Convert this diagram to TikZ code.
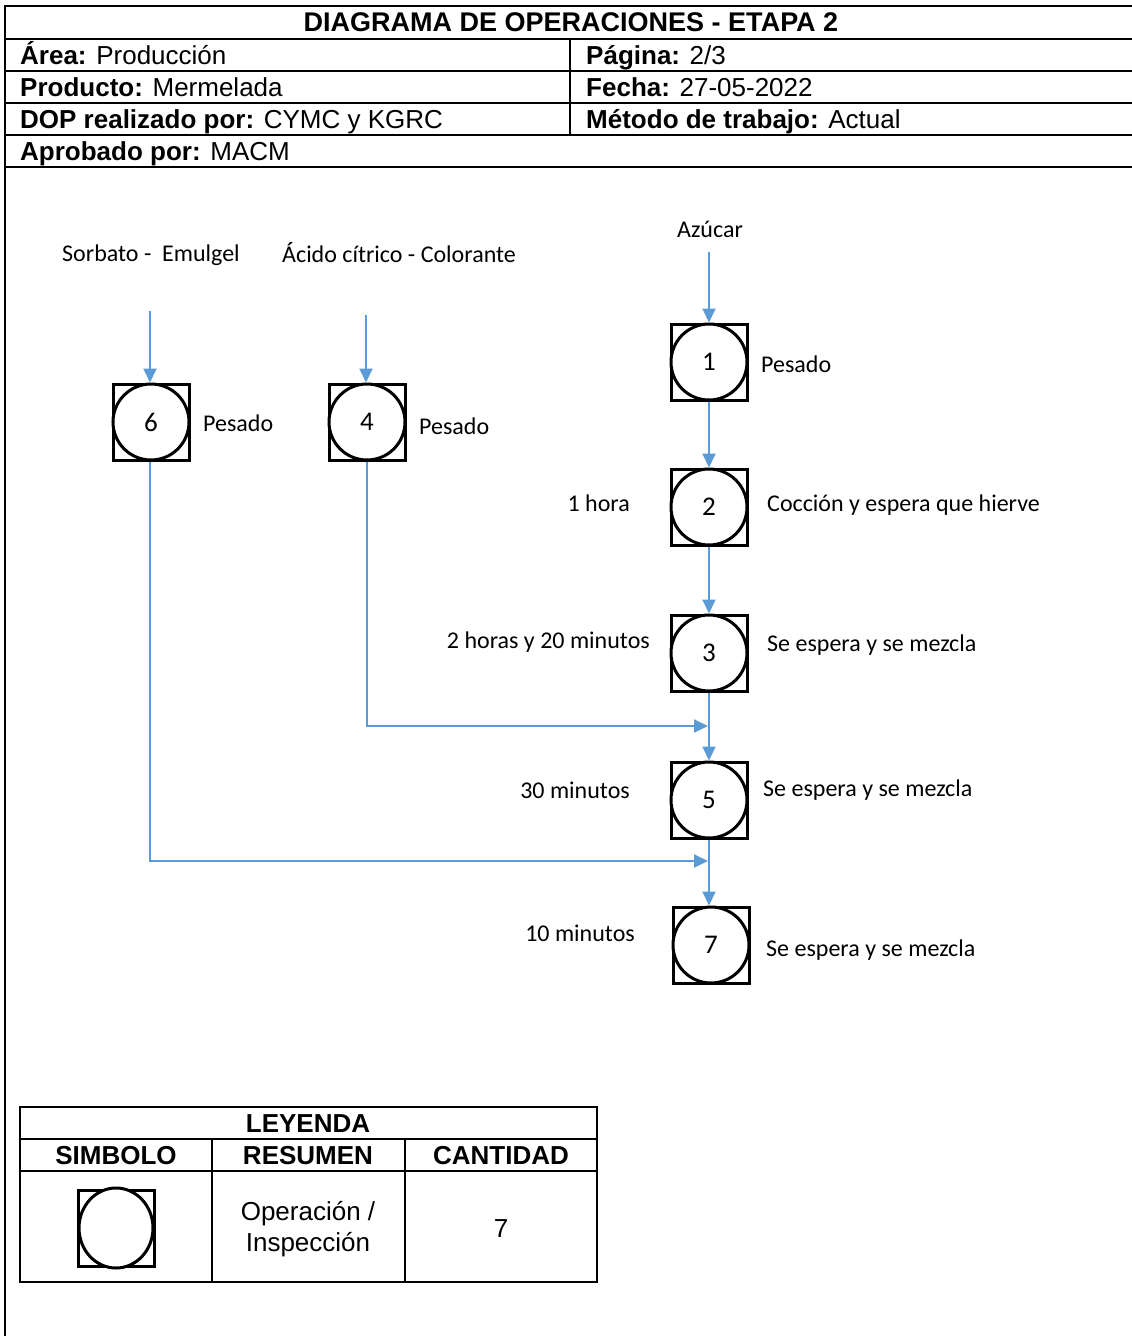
\documentclass[tikz,border=0pt]{standalone}
\usepackage{fontspec}
\setmainfont{Liberation Sans}
\newfontfamily\calibrifont{Carlito}
\usetikzlibrary{arrows.meta}
\definecolor{flowblue}{HTML}{5B9BD5}
\tikzset{
  frame/.style={line width=2pt, black},
  hdr/.style={inner sep=0pt, anchor=base west, font=\fontsize{26}{30}\selectfont},
  lbl/.style={inner sep=0pt, font=\calibrifont\fontsize{24}{28}\selectfont},
  sq/.style={draw, line width=3pt, minimum size=76pt, inner sep=0pt},
  circ/.style={draw, circle, fill=white, line width=3pt, minimum size=76pt, inner sep=0pt, font=\calibrifont\fontsize{27}{30}\selectfont},
  arr/.style={draw=flowblue, line width=2pt, -{Triangle[length=14pt,width=13pt]}, color=flowblue},
  lgd/.style={inner sep=0pt, font=\fontsize{26}{31}\selectfont, align=center},
  lgdb/.style={inner sep=0pt, anchor=base, font=\bfseries\fontsize{26}{31}\selectfont},
}
\begin{document}
\begin{tikzpicture}[x=1pt,y=-1pt]
\useasboundingbox (0,0) rectangle (1132,1336);
% header frame
\draw[frame] (1132,6) -- (5,6) -- (5,1336);
\foreach \yy in {39,71,103,135,167} \draw[frame] (5,\yy) -- (1132,\yy);
\draw[frame] (570,39) -- (570,135);
\node[hdr, anchor=base, font=\bfseries\fontsize{27}{30}\selectfont] (title) at (571,31) {DIAGRAMA DE OPERACIONES - ETAPA 2};
\node[hdr] (area) at (20,64) {\textbf{Área:} Producción};
\node[hdr] (prod) at (20,96) {\textbf{Producto:} Mermelada};
\node[hdr] (dop) at (20,128) {\textbf{DOP realizado por:} CYMC y KGRC};
\node[hdr] (apr) at (20,160) {\textbf{Aprobado por:} MACM};
\node[hdr] (pag) at (586,64) {\textbf{Página:} 2/3};
\node[hdr] (fec) at (586,96) {\textbf{Fecha:} 27-05-2022};
\node[hdr] (met) at (586,128) {\textbf{Método de trabajo:} Actual};

% inputs
\node[lbl] (in6) at (151,255) {Sorbato -\ \ Emulgel};
\node[lbl, anchor=west] (in4) at (282,253) {Ácido cítrico - Colorante};
\node[lbl] (in1) at (710,229) {Azúcar};
\coordinate (c6) at (150,311);
\coordinate (c4) at (366,315);
\coordinate (c1) at (709,252);

% symbols
\foreach \n/\xx/\yy in {1/709/362, 2/709/507, 3/709/653, 5/709/800, 7/711/945, 6/151/422, 4/367/422}{
  \node[sq] (s\n) at (\xx,\yy) {};
  \node[circ] (n\n) at (\xx,\yy) {\raisebox{-5pt}{\n}};
}

% labels
\node[lbl, anchor=west] (p1) at (761,364) {Pesado};
\node[lbl, anchor=west] (p6) at (203,423) {Pesado};
\node[lbl, anchor=west] (p4) at (419,426) {Pesado};
\node[lbl, anchor=east] (t2) at (630,503) {1 hora};
\node[lbl, anchor=west] (d2) at (767,505) {Cocción y espera que hierve};
\node[lbl, anchor=east] (t3) at (650,642) {2 horas y 20 minutos};
\node[lbl, anchor=west] (d3) at (767,645) {Se espera y se mezcla};
\node[lbl, anchor=east] (t5) at (630,790) {30 minutos};
\node[lbl, anchor=west] (d5) at (763,790) {Se espera y se mezcla};
\node[lbl, anchor=east] (t7) at (635,933) {10 minutos};
\node[lbl, anchor=west] (d7) at (766,950) {Se espera y se mezcla};

% connectors
\draw[arr] (c1) -- (s1.north);
\draw[arr] (c6) -- (s6.north -| c6);
\draw[arr] (c4) -- (s4.north -| c4);
\draw[arr] (s1.south) -- (s2.north);
\draw[arr] (s2.south) -- (s3.north);
\draw[arr] (s3.south) -- (s5.north);
\draw[arr] (s5.south) -- (s7.north -| s5.south);
\coordinate (j4) at (708,726);
\coordinate (j6) at (708,861);
\draw[arr] (s4.south) |- (j4);
\draw[arr] (s6.south -| c6) |- (j6);

% legend
\draw[frame] (20,1107) rectangle (597,1282);
\draw[frame] (20,1139) -- (597,1139);
\draw[frame] (20,1171) -- (597,1171);
\draw[frame] (212,1139) -- (212,1282);
\draw[frame] (405,1139) -- (405,1282);
\node[lgdb] (ley) at (308,1132) {LEYENDA};
\node[lgdb] (hs) at (116,1164) {SIMBOLO};
\node[lgdb] (hr) at (308,1164) {RESUMEN};
\node[lgdb] (hc) at (501,1164) {CANTIDAD};
\node[draw, line width=3pt, minimum size=76pt, inner sep=0pt] (ls) at (116,1228) {};
\draw[line width=3pt, fill=white] (116,1228) ellipse (37pt and 40pt);
\node[lgd] (lr) at (308,1229) {Operación /\\Inspección};
\node[lgd] (lc) at (501,1229) {7};
\end{tikzpicture}
\end{document}
